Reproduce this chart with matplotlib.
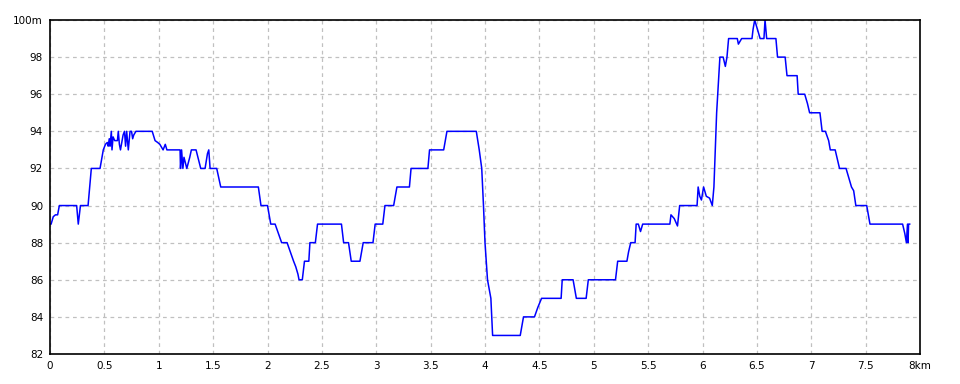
import matplotlib
matplotlib.use('Agg')
import matplotlib.pyplot as plt
import numpy as np

# distance (km) and elevation (m)
dist = [0.0, 0.01, 0.03, 0.05, 0.07, 0.086, 0.245, 0.26, 0.28, 0.35, 0.38, 0.46,
        0.49, 0.51, 0.527, 0.535, 0.545, 0.552, 0.564, 0.57, 0.58, 0.595, 0.61, 0.62, 0.628,
        0.638, 0.648, 0.66, 0.672, 0.685, 0.695, 0.705, 0.72, 0.736, 0.75, 0.76,
        0.77, 0.79, 0.94, 0.966, 0.99, 1.01, 1.04, 1.06, 1.075, 1.196, 1.2, 1.21,
        1.222, 1.232, 1.258, 1.285, 1.30, 1.343, 1.365, 1.386, 1.426, 1.448, 1.46,
        1.472, 1.533, 1.57, 1.916, 1.94, 2.0, 2.03, 2.07, 2.10, 2.13, 2.18, 2.21,
        2.24, 2.26, 2.28, 2.29, 2.32, 2.34, 2.38, 2.39, 2.44, 2.46, 2.68, 2.70,
        2.745, 2.77, 2.85, 2.865, 2.88, 2.97, 2.99, 3.06, 3.08, 3.16, 3.19, 3.305,
        3.32, 3.475, 3.49, 3.62, 3.65, 3.92, 3.947, 3.97, 3.986, 4.0, 4.023, 4.054,
        4.07, 4.324, 4.354, 4.455, 4.485, 4.52, 4.70, 4.71, 4.81, 4.84, 4.93, 4.95,
        5.20, 5.22, 5.305, 5.32, 5.34, 5.38, 5.39, 5.41, 5.43, 5.45, 5.70, 5.71,
        5.74, 5.77, 5.79, 5.95, 5.96, 5.975, 5.99, 6.01, 6.035, 6.065, 6.09, 6.105,
        6.118, 6.13, 6.15, 6.16, 6.19, 6.21, 6.225, 6.24, 6.32, 6.33, 6.36, 6.455,
        6.465, 6.48, 6.505, 6.53, 6.565, 6.575, 6.59, 6.675, 6.69, 6.76, 6.777, 6.87,
        6.88, 6.94, 6.965, 6.985, 7.08, 7.10, 7.13, 7.16, 7.175, 7.22, 7.24, 7.26,
        7.32, 7.345, 7.37, 7.39, 7.41, 7.51, 7.525, 7.54, 7.84, 7.86, 7.875, 7.885,
        7.89, 7.895, 7.905]
elev = [89.0, 89.0, 89.4, 89.5, 89.5, 90.0, 90.0, 89.0, 90.0, 90.0, 92.0, 92.0,
        93.0, 93.3, 93.4, 93.2, 93.6, 93.2, 94.0, 93.0, 93.7, 93.5, 93.5, 93.5, 94.0,
        93.3, 93.0, 93.4, 93.8, 94.0, 93.2, 94.0, 93.0, 94.0, 94.0, 93.6,
        93.8, 94.0, 94.0, 93.5, 93.4, 93.3, 93.0, 93.3, 93.0, 93.0, 92.0, 93.0,
        92.0, 92.6, 92.0, 92.6, 93.0, 93.0, 92.5, 92.0, 92.0, 92.8, 93.0,
        92.0, 92.0, 91.0, 91.0, 90.0, 90.0, 89.0, 89.0, 88.5, 88.0, 88.0, 87.5,
        87.0, 86.7, 86.3, 86.0, 86.0, 87.0, 87.0, 88.0, 88.0, 89.0, 89.0, 88.0,
        88.0, 87.0, 87.0, 87.5, 88.0, 88.0, 89.0, 89.0, 90.0, 90.0, 91.0, 91.0,
        92.0, 92.0, 93.0, 93.0, 94.0, 94.0, 93.0, 92.0, 90.0, 88.0, 86.0, 85.0,
        83.0, 83.0, 84.0, 84.0, 84.5, 85.0, 85.0, 86.0, 86.0, 85.0, 85.0, 86.0,
        86.0, 87.0, 87.0, 87.5, 88.0, 88.0, 89.0, 89.0, 88.6, 89.0, 89.0, 89.5,
        89.3, 88.9, 90.0, 90.0, 91.0, 90.5, 90.3, 91.0, 90.5, 90.4, 90.0, 91.0,
        93.0, 95.0, 97.0, 98.0, 98.0, 97.5, 98.0, 99.0, 99.0, 98.7, 99.0, 99.0,
        99.5, 100.0, 99.5, 99.0, 99.0, 100.0, 99.0, 99.0, 98.0, 98.0, 97.0, 97.0,
        96.0, 96.0, 95.5, 95.0, 95.0, 94.0, 94.0, 93.5, 93.0, 93.0, 92.5, 92.0,
        92.0, 91.5, 91.0, 90.8, 90.0, 90.0, 89.5, 89.0, 89.0, 88.5, 88.0, 89.0,
        88.0, 89.0, 89.0]

xticks = [0, 0.5, 1, 1.5, 2, 2.5, 3, 3.5, 4, 4.5, 5, 5.5, 6, 6.5, 7, 7.5, 8]
xlabels = ['0', '0.5', '1', '1.5', '2', '2.5', '3', '3.5', '4', '4.5', '5',
           '5.5', '6', '6.5', '7', '7.5', '8km']
yticks = [82, 84, 86, 88, 90, 92, 94, 96, 98, 100]
ylabels = ['82', '84', '86', '88', '90', '92', '94', '96', '98', '100m']

fig = plt.figure(figsize=(9.6, 3.84), dpi=100)
ax = fig.add_axes([50 / 960, 30 / 384, 870 / 960, 334 / 384])

ax.plot(dist, elev, color='#0000ff', linewidth=1.1)

ax.set_xlim(0, 8)
ax.set_ylim(82, 100)
ax.set_xticks(xticks)
ax.set_xticklabels(xlabels)
ax.set_yticks(yticks)
ax.set_yticklabels(ylabels)
ax.tick_params(length=0, labelsize=7.5, pad=5)

#dashed grey grid
ax.grid(True, color='#c0c0c0', linestyle=(0, (3, 3)), linewidth=0.9)
ax.set_axisbelow(True)
for s in ax.spines.values():
    s.set_color('black')
    s.set_linewidth(1.2)

fig.savefig('out.png', dpi=100)
